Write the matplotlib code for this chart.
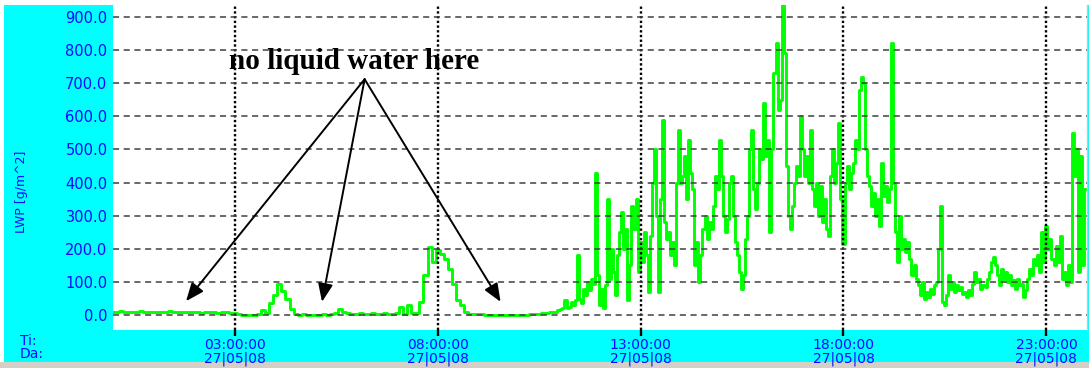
import numpy as np
import matplotlib
matplotlib.use('Agg')
import matplotlib.pyplot as plt
from matplotlib.patches import Rectangle

# ---------------- data ----------------
quiet_start = 0.0     # hours
quiet_step = 0.1      # hours between samples
lwp_quiet = [
    10, 9, 11, 10, 8, 10, 9, 11, 10, 9,
    9, 10, 8, 9, 11, 9, 8, 10, 9, 8,
    8, 9, 7, 8, 10, 8, 7, 9, 8, 7,
    5, 3, 1, 0, 1, 0, 2, 15, 5, 35,
    60, 95, 72, 48, 18, 3, 0, 2, 0, 1,
    1, 0, 2, 1, 3, 6, 18, 8, 5, 4,
    4, 5, 3, 4, 6, 4, 3, 5, 4, 3,
    5, 25, 4, 30, 6, 5, 40, 120, 205, 160,
    195, 185, 170, 140, 95, 45, 30, 8, 4, 3,
    3, 2, 1, 0, 0, 1, 0, 0, 1, 0,
    0, 1, 1, 2, 3, 4, 5, 6, 8, 10,
]

cloudy_start = 11.0
cloudy_step = 0.05
lwp_cloudy = [
    15, 18, 20, 45, 22, 25, 40, 30, 45, 180,
    50, 35, 80, 60, 100, 75, 110, 95, 430, 120,
    30, 80, 20, 90, 350, 110, 200, 130, 60, 180,
    250, 310, 200, 260, 45, 150, 330, 260, 350, 130,
    220, 160, 250, 180, 70, 240, 400, 500, 300, 70,
    350, 590, 280, 230, 250, 180, 220, 150, 400, 560,
    400, 420, 480, 350, 530, 430, 380, 150, 220, 100,
    180, 260, 300, 230, 280, 260, 330, 420, 380, 530,
    420, 300, 250, 290, 400, 420, 300, 220, 180, 130,
    80, 120, 230, 300, 500, 560, 380, 320, 400, 500,
    470, 640, 480, 530, 250, 500, 730, 820, 620, 650,
    935, 790, 450, 300, 260, 330, 400, 450, 420, 600,
    500, 420, 480, 400, 560, 380, 330, 400, 300, 390,
    280, 350, 260, 240, 420, 500, 400, 460, 580, 350,
    215, 400, 450, 380, 430, 460, 530, 500, 680, 720,
    700, 500, 420, 390, 330, 370, 300, 350, 270, 460,
    360, 390, 340, 380, 820, 400, 250, 160, 300, 200,
    230, 190, 220, 170, 120, 150, 110, 90, 60, 100,
    50, 70, 55, 80, 65, 90, 100, 200, 330, 40,
    30, 60, 120, 80, 100, 70, 90, 75, 85, 65,
    70, 55, 75, 60, 95, 130, 100, 110, 80, 90,
    85, 110, 130, 160, 175, 150, 120, 90, 140, 110,
    130, 100, 120, 90, 105, 80, 110, 90, 95, 55,
    75, 110, 140, 120, 170, 150, 180, 130, 250, 160,
    270, 200, 230, 170, 150, 210, 160, 240, 110, 130,
    90, 150, 100, 550, 420, 500, 130, 480, 150, 380,
]

y_ticks = [0, 100, 200, 300, 400, 500, 600, 700, 800, 900]
x_ticks = [3, 8, 13, 18, 23]
x_time_labels = ['03:00:00', '08:00:00', '13:00:00', '18:00:00', '23:00:00']
date_label = '27|05|08'
y_title = 'LWP [g/m^2]'
note_text = 'no liquid water here'
note_pos = (5.95, 765)
arrow_start = (6.2, 712)
arrow_tips = [(1.8, 42), (5.15, 40), (9.55, 40)]

# ---------------- figure ----------------
W, H = 1089, 368
fig = plt.figure(figsize=(W / 100, H / 100), dpi=100)
fig.patch.set_facecolor('white')
cyan = '#00ffff'
blue = '#0a0aff'
fig.add_artist(Rectangle((4 / W, 6 / H), (W - 4) / W, 357 / H, transform=fig.transFigure,
                         facecolor=cyan, edgecolor='none', zorder=0))
fig.add_artist(Rectangle((0, 0), 1, 6 / H, transform=fig.transFigure,
                         facecolor='#d4d0c8', edgecolor='none', zorder=0))

ax = fig.add_axes([113 / W, 38 / H, 974 / W, 325 / H])
ax.set_facecolor('white')

t_quiet = quiet_start + quiet_step * np.arange(len(lwp_quiet))
t_cloudy = cloudy_start + cloudy_step * np.arange(len(lwp_cloudy))
t = np.concatenate([t_quiet, t_cloudy])
v = np.concatenate([lwp_quiet, lwp_cloudy])

ax.plot(t, v, color='#00ff00', lw=2.1, drawstyle='steps-mid', zorder=2)

ax.set_xlim(0, 24)
ax.set_ylim(-45, 936)
ax.set_yticks(y_ticks)
ax.set_yticklabels([f'{y:.1f}' for y in y_ticks])
ax.set_xticks(x_ticks)
ax.set_xticklabels([f'{lab}\n{date_label}' for lab in x_time_labels])
for tl in ax.get_xticklabels():
    tl.set_linespacing(0.95)

ax.set_axisbelow(False)
ax.yaxis.grid(True, linestyle=(0, (4, 3)), color='#404040', lw=1.1)
ax.xaxis.grid(True, linestyle=(0, (1, 1)), color='black', lw=1.7)

ax.tick_params(axis='x', length=4, width=1.7, color='black', pad=1.5,
               labelcolor=blue, labelsize=10)
ax.tick_params(axis='y', length=0, pad=4, labelcolor=blue, labelsize=10.5)

for s in ['left', 'top', 'bottom']:
    ax.spines[s].set_visible(False)
ax.spines['right'].set_color('#c8c8c8')
ax.spines['right'].set_linewidth(1.0)

fig.text(20 / W, 1 - 341 / H, 'Ti:', color=blue, fontsize=10, va='center', ha='left')
fig.text(20 / W, 1 - 354 / H, 'Da:', color=blue, fontsize=10, va='center', ha='left')
fig.text(22 / W, 1 - 192 / H, y_title, color=blue, fontsize=9, rotation=90,
         va='center', ha='center')

ax.text(note_pos[0], note_pos[1], note_text, fontsize=21, fontweight='bold',
        family=['Liberation Serif', 'DejaVu Serif'], ha='center', va='center', zorder=5)
for tip in arrow_tips:
    ax.annotate('', xy=tip, xytext=arrow_start,
                arrowprops=dict(arrowstyle='-|>,head_length=1.1,head_width=0.45',
                                color='black', lw=1.4, shrinkA=0, shrinkB=0),
                zorder=5)

fig.savefig('out.png', dpi=100, facecolor=fig.get_facecolor())
